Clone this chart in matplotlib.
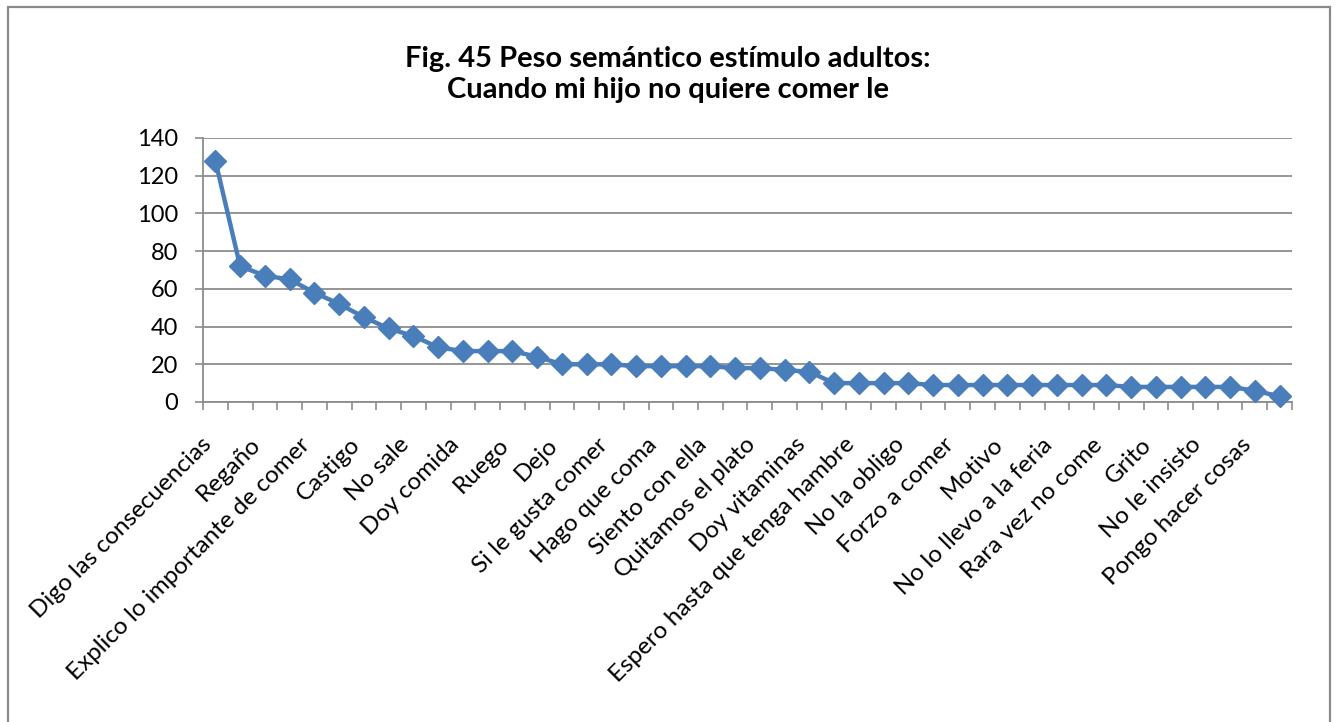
import matplotlib
matplotlib.use("Agg")
import matplotlib.pyplot as plt
from matplotlib.patches import Rectangle
import numpy as np

plt.rcParams['font.family'] = ['Lato', 'DejaVu Sans']

# --- Data ---
# only every other category is labelled in the original chart
categories = [
    "Digo las consecuencias", "", "Regaño", "", "Explico lo importante de comer", "",
    "Castigo", "", "No sale", "", "Doy comida", "", "Ruego", "", "Dejo", "",
    "Si le gusta comer", "", "Hago que coma", "", "Siento con ella", "",
    "Quitamos el plato", "", "Doy vitaminas", "", "Espero hasta que tenga hambre", "",
    "No la obligo", "", "Forzo a comer", "", "Motivo", "", "No lo llevo a la feria", "",
    "Rara vez no come", "", "Grito", "", "No le insisto", "", "Pongo hacer cosas", "",
]
values = [128, 72, 67, 65, 58, 52, 45, 39, 35, 29,
          27, 27, 27, 24, 20, 20, 20, 19, 19, 19,
          19, 18, 18, 17, 16, 10, 10, 10, 10, 9,
          9, 9, 9, 9, 9, 9, 9, 8, 8, 8,
          8, 8, 6, 3]
y_ticks = [0, 20, 40, 60, 80, 100, 120, 140]
title = "Fig. 45 Peso semántico estímulo adultos:\nCuando mi hijo no quiere comer le"

LINE_COLOR = "#4A7EBB"
GRID_COLOR = "#8C8C8C"

W, H = 1336, 722
fig = plt.figure(figsize=(W / 100, H / 100), dpi=100)
fig.patch.set_facecolor("white")

# outer chart frame (bottom edge falls outside the image)
frame = Rectangle((8 / W, -0.05), (1330 - 8) / W, 1.05 - 7 / H,
                  transform=fig.transFigure, fill=False,
                  edgecolor="#8A8A8A", linewidth=1.6)
fig.patches.append(frame)

ax = fig.add_axes([203 / W, (H - 402) / H, (1292 - 203) / W, (402 - 138) / H])

x = np.arange(len(values))
ax.plot(x, values, color=LINE_COLOR, linewidth=3.2, marker="D",
        markersize=11.5, markerfacecolor=LINE_COLOR, markeredgecolor=LINE_COLOR,
        zorder=3, clip_on=False)

ax.set_xlim(-0.5, len(values) - 0.5)
ax.set_ylim(0, 140)
ax.set_yticks(y_ticks)
ax.set_yticklabels([str(v) for v in y_ticks], fontsize=17)
ax.yaxis.grid(True, color=GRID_COLOR, linewidth=1.3)
ax.set_axisbelow(True)

# labels at category centres, tick marks at category boundaries
label_idx = [i for i, c in enumerate(categories) if c]
ax.set_xticks(label_idx)
ax.set_xticklabels([categories[i] for i in label_idx], rotation=45,
                   ha="right", fontsize=17.5)
ax.set_xticks(np.arange(-0.5, len(values)), minor=True)
ax.tick_params(axis="x", which="major", length=0, pad=23)
ax.tick_params(axis="x", which="minor", length=6, width=1.2, color=GRID_COLOR)
ax.tick_params(axis="y", length=6, width=1.2, color=GRID_COLOR, pad=12)

for side in ["top", "right"]:
    ax.spines[side].set_visible(False)
for side in ["left", "bottom"]:
    ax.spines[side].set_color(GRID_COLOR)
    ax.spines[side].set_linewidth(1.3)

fig.text(668 / W, 1 - 46 / H, title, ha="center", va="top",
         fontsize=21, fontweight="bold", linespacing=1.25)

fig.savefig("out.png", dpi=100)
